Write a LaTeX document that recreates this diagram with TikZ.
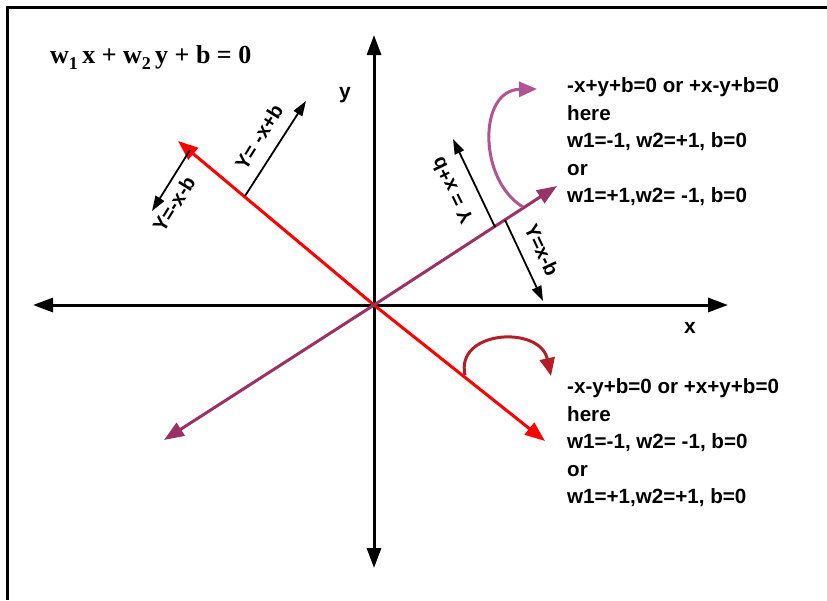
\documentclass[tikz,border=0pt]{standalone}
\usepackage{fontspec}
\setmainfont{Liberation Sans}
\newfontfamily\serifb{Liberation Serif}
\usetikzlibrary{arrows.meta}
\definecolor{purp}{RGB}{153,51,102}
\definecolor{pinkp}{RGB}{176,84,146}
\definecolor{dred}{RGB}{180,30,40}
\begin{document}
\begin{tikzpicture}[x=1pt,y=-1pt,
  axis/.style={line width=3pt,-{Triangle[length=20pt,width=14pt]}},
  bigarr/.style={line width=3pt,-{Triangle[length=20pt,width=15pt]}},
  thin/.style={line width=1.8pt,-{Triangle[length=15pt,width=10pt]}},
  lbl/.style={font=\fontsize{20}{20}\selectfont\bfseries,inner sep=1pt},
  blk/.style={font=\fontsize{20.6}{27.5}\selectfont\bfseries,align=left,inner sep=0pt,anchor=west},
  curv/.style={line width=3pt,-{Triangle[length=18pt,width=15pt]}}]
\useasboundingbox (0,0) rectangle (827,600);
\fill[white] (0,0) rectangle (827,600);
% frame
\draw[line width=3pt] (7,600) -- (7,7) -- (827,7);
% coordinates
\coordinate (O) at (374,305);
\coordinate (xl) at (33,305);
\coordinate (xr) at (728,305);
\coordinate (yt) at (374,35);
\coordinate (yb) at (374,568);
\coordinate (r1) at (178,141);
\coordinate (r2) at (545,441);
\coordinate (p1) at (164,440);
\coordinate (p2) at (557,186);
% axes
\draw[axis] (O) -- (xl);
\draw[axis] (O) -- (xr);
\draw[axis] (O) -- (yt);
\draw[axis] (O) -- (yb);
\node[font=\fontsize{21}{21}\selectfont\bfseries] (ylab) at (345,95) {y};
\node[font=\fontsize{21}{21}\selectfont\bfseries] (xlab) at (690,328) {x};
% red and purple lines
\draw[bigarr,red] (O) -- (r1);
\draw[bigarr,red] (O) -- (r2);
\draw[bigarr,purp] (O) -- (p1);
\draw[bigarr,purp] (O) -- (p2);
% black arrows
\coordinate (a1s) at (245,196);
\coordinate (a1e) at (306,101);
\draw[thin] (a1s) -- (a1e);
\node[lbl,rotate=58] (l1) at (259,137) {Y= -x+b};
\coordinate (a2s) at (190,150);
\coordinate (a2e) at (152,211);
\draw[thin] (a2s) -- (a2e);
\node[lbl,rotate=58] (l2) at (174,204) {Y=-x-b};
\coordinate (a3s) at (495,227);
\coordinate (a3e) at (453,139);
\draw[thin] (a3s) -- (a3e);
\node[lbl,rotate=116] (l3) at (452,191) {Y = x+b};
\coordinate (a4s) at (505,220);
\coordinate (a4e) at (543,301);
\draw[thin] (a4s) -- (a4e);
\node[lbl,rotate=-65] (l4) at (542,250) {Y=x-b};
% curved arrows
\coordinate (c1s) at (523,207);
\coordinate (c1e) at (537,89);
\draw[curv,pinkp] (c1s) .. controls (478,180) and (478,90) .. (c1e);
\coordinate (c2s) at (465,375);
\coordinate (c2e) at (551,376);
\draw[curv,dred] (c2s) .. controls (455,330) and (540,325) .. (c2e);
% text blocks
\node[blk] (t1) at (567,142) {-x+y+b=0 or +x-y+b=0\\here\\w1=-1, w2=+1, b=0\\or\\w1=+1,w2= -1, b=0};
\node[blk] (t2) at (567,443) {-x-y+b=0 or +x+y+b=0\\here\\w1=-1, w2= -1, b=0\\or\\w1=+1,w2=+1, b=0};
% equation
\node[anchor=west,inner sep=0pt,font=\serifb\bfseries\fontsize{26}{26}\selectfont] (eq) at (50,57)
  {w\raisebox{-6pt}{\fontsize{18}{18}\selectfont 1}\,x + w\raisebox{-6pt}{\fontsize{18}{18}\selectfont 2}\,y + b = 0};
\end{tikzpicture}
\end{document}
